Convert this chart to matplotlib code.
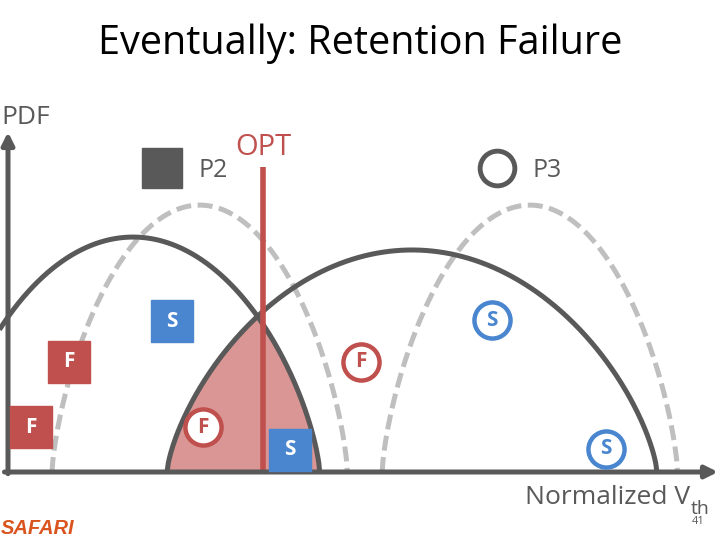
import numpy as np
import matplotlib.pyplot as plt

plt.rcParams['font.family'] = ['Open Sans', 'DejaVu Sans']

# distributions: centre, half-width, peak (normalised Vth / PDF units)
curve_names = ['P2 now', 'P3 now', 'P2 initial', 'P3 initial']
curve_center = [0.176, 0.569, 0.270, 0.735]
curve_halfw = [0.263, 0.345, 0.208, 0.208]
curve_peak = [0.691, 0.653, 0.785, 0.785]
curve_dashed = [False, False, True, True]
curve_shape = 0.7

opt_x = 0.359
opt_top = 0.897

# cell markers: x, y, label, kind (square / ring)
cell_x = [0.231, 0.086, 0.032, 0.275, 0.397, 0.497, 0.682, 0.842]
cell_y = [0.444, 0.324, 0.132, 0.132, 0.065, 0.324, 0.447, 0.068]
cell_lab = ['S', 'F', 'F', 'F', 'S', 'F', 'S', 'S']
cell_kind = ['sq', 'sq', 'sq', 'ring', 'sq', 'ring', 'ring', 'ring']

DARK = '#595959'
RED = '#C0504D'
BLUE = '#4A86CF'
GRAY = '#BFBFBF'
PINK = '#D99694'


def arc(c, hw, h, lo=-0.012):
    x = np.linspace(max(c - hw, lo), c + hw, 400)
    u = np.clip(1 - ((x - c) / hw) ** 2, 0, None)
    return x, h * u ** curve_shape


fig = plt.figure(figsize=(7.2, 5.4), dpi=100)
ax = fig.add_axes([8 / 720, 68 / 540, 710 / 720, 340 / 540])
ax.set_xlim(0, 1)
ax.set_ylim(0, 1)
ax.axis('off')

# red shaded overlap region under both solid curves
xs = np.linspace(0, 1, 1000)
ys = []
for i in range(2):
    c, hw, h = curve_center[i], curve_halfw[i], curve_peak[i]
    u = np.clip(1 - ((xs - c) / hw) ** 2, 0, None)
    ys.append(h * u ** curve_shape)
ax.fill_between(xs, 0, np.minimum(ys[0], ys[1]), color=PINK, lw=0, zorder=1)

for c, hw, h, d in zip(curve_center, curve_halfw, curve_peak, curve_dashed):
    x, y = arc(c, hw, h)
    if d:
        ax.plot(x, y, color=GRAY, lw=3.6, dashes=(3, 1.3), zorder=2, clip_on=False)
    else:
        ax.plot(x, y, color=DARK, lw=3.6, zorder=3, clip_on=False,
                solid_capstyle='butt')

ax.plot([opt_x, opt_x], [0, opt_top], color=RED, lw=4, zorder=4,
        solid_capstyle='butt')

# axes with arrows
ax.annotate('', xy=(0, 1.0), xytext=(0, -0.005),
            arrowprops=dict(arrowstyle='-|>', lw=3.6, color=DARK,
                            mutation_scale=18, shrinkA=0, shrinkB=0),
            zorder=5, annotation_clip=False)
ax.annotate('', xy=(1.0, 0), xytext=(-0.005, 0),
            arrowprops=dict(arrowstyle='-|>', lw=3.6, color=DARK,
                            mutation_scale=18, shrinkA=0, shrinkB=0),
            zorder=5, annotation_clip=False)

for x, y, lab, kind in zip(cell_x, cell_y, cell_lab, cell_kind):
    col = RED if lab == 'F' else BLUE
    if kind == 'sq':
        ax.plot(x, y, marker='s', ms=30, color=col, mec=col, zorder=6,
                clip_on=False)
        ax.text(x, y, lab, color='white', fontsize=15, fontweight='bold',
                ha='center', va='center', zorder=7)
    else:
        ax.plot(x, y, marker='o', ms=26, mfc='white', mec=col, mew=3.2,
                zorder=6, clip_on=False)
        ax.text(x, y, lab, color=col, fontsize=15, fontweight='bold',
                ha='center', va='center', zorder=7)

# legend-like markers
ax.plot(0.217, 0.894, marker='s', ms=29, color=DARK, clip_on=False)
ax.text(0.268, 0.888, 'P2', fontsize=18, color=DARK, va='center')
ax.text(opt_x, 0.953, 'OPT', fontsize=21, color=RED, ha='center', va='center')
ax.plot(0.689, 0.894, marker='o', ms=25, mfc='none', mec=DARK, mew=3.5,
        clip_on=False)
ax.text(0.739, 0.888, 'P3', fontsize=18, color=DARK, va='center')

fig.text(360 / 720, 1 - 44 / 540, 'Eventually: Retention Failure',
         fontsize=28.5, ha='center', va='center', color='black')
fig.text(1 / 720, 1 - 118 / 540, 'PDF', fontsize=19, color=DARK, va='center')
fig.text(690 / 720, 1 - 497 / 540, 'Normalized V', fontsize=19, color=DARK,
         ha='right', va='center')
fig.text(691 / 720, 1 - 509 / 540, 'th', fontsize=14, color=DARK,
         ha='left', va='center')
fig.text(698 / 720, 1 - 522 / 540, '41', fontsize=8, color=DARK,
         ha='center', va='center')
fig.text(1 / 720, 1 - 529 / 540, 'SAFARI', fontsize=14.5, color='#D9541E',
         fontweight='bold', fontstyle='italic', family='Liberation Sans',
         va='center')

fig.savefig('out.png', dpi=100)
